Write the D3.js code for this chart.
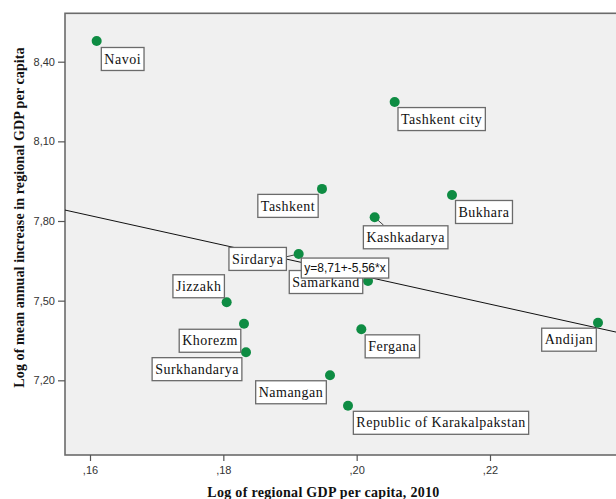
<!DOCTYPE html>
<html>
<head>
<meta charset="utf-8">
<script src="https://cdn.jsdelivr.net/npm/d3@7"></script>
<style>
  html, body { margin: 0; padding: 0; background: #fff; }
  svg { display: block; }
</style>
</head>
<body>
<svg id="chart" width="616" height="499"></svg>
<script>
// Regions of Uzbekistan: log GDP per capita (2010) vs log mean annual increase
const regions = ["Navoi", "Tashkent city", "Tashkent", "Kashkadarya", "Bukhara", "Sirdarya",
  "Samarkand", "Jizzakh", "Khorezm", "Surkhandarya", "Fergana", "Namangan",
  "Republic of Karakalpakstan", "Andijan"];
const logGdp2010 = [0.1610, 0.2057, 0.1948, 0.2027, 0.2143, 0.1913,
  0.2017, 0.1805, 0.1831, 0.1834, 0.2007, 0.1960, 0.1987, 0.2362];
const logMeanIncrease = [8.478, 8.248, 7.921, 7.814, 7.898, 7.676,
  7.574, 7.494, 7.413, 7.306, 7.392, 7.219, 7.104, 7.417];

// Linear fit as printed on the chart
const fitIntercept = 8.71;
const fitSlope = -5.56;

const xTicks = [0.16, 0.18, 0.20, 0.22];
const yTicks = [7.20, 7.50, 7.80, 8.10, 8.40];

// Label box centre offsets from each point (px)
const labelOffsets = [[26, 18], [47, 17], [-34, 17], [31, 20], [32, 17], [-41, 5],
  [-42, 1], [-28, -16], [-34, 17], [-49, 17], [31, 17], [-39, 17], [93, 17], [-29, 17]];

const svg = d3.select("#chart");
const plot = { left: 65, top: 13.3, right: 620, bottom: 455 };

const x = d3.scaleLinear().domain([0.15625, 0.23950]).range([plot.left, plot.right]);
const y = d3.scaleLinear().domain([6.9187, 8.5823]).range([plot.bottom, plot.top]);

const decimalComma = v => v.toFixed(2).replace(".", ",");

// plot area
svg.append("defs").append("clipPath").attr("id", "plotClip")
  .append("rect").attr("x", plot.left).attr("y", plot.top)
  .attr("width", plot.right - plot.left).attr("height", plot.bottom - plot.top);

svg.append("rect")
  .attr("x", plot.left).attr("y", plot.top)
  .attr("width", plot.right - plot.left + 10).attr("height", plot.bottom - plot.top)
  .attr("fill", "#f0f0f0").attr("stroke", "#6b6b6b").attr("stroke-width", 1.6);

// axes
const xAxis = svg.append("g").attr("transform", `translate(0,${plot.bottom})`)
  .call(d3.axisBottom(x).tickValues(xTicks).tickSize(6).tickPadding(5)
    .tickFormat(v => decimalComma(v).replace(/^0/, "")));
const yAxis = svg.append("g").attr("transform", `translate(${plot.left},0)`)
  .call(d3.axisLeft(y).tickValues(yTicks).tickSize(7).tickPadding(3)
    .tickFormat(decimalComma));
[xAxis, yAxis].forEach(g => {
  g.select(".domain").remove();
  g.selectAll(".tick line").attr("stroke", "#555").attr("stroke-width", 1.2);
  g.selectAll(".tick text").attr("fill", "#333")
    .style("font-family", "'Liberation Sans', Arial, sans-serif").style("font-size", "11px");
});

// axis titles
svg.append("text")
  .attr("x", 323.5).attr("y", 497).attr("text-anchor", "middle")
  .style("font-family", "'Liberation Serif', 'Times New Roman', serif")
  .style("font-size", "14px").style("font-weight", "bold").style("letter-spacing", "0.3px")
  .attr("fill", "#111")
  .text("Log of regional GDP per capita, 2010");
svg.append("text")
  .attr("transform", "translate(24,217.5) rotate(-90)").attr("text-anchor", "middle")
  .style("font-family", "'Liberation Serif', 'Times New Roman', serif")
  .style("font-size", "14px").style("font-weight", "bold").style("letter-spacing", "0.1px")
  .attr("fill", "#111")
  .text("Log of mean annual increase in regional GDP per capita");

// fit line
const xd = x.domain();
svg.append("line")
  .attr("clip-path", "url(#plotClip)")
  .attr("x1", x(xd[0])).attr("y1", y(fitIntercept + fitSlope * xd[0]))
  .attr("x2", x(xd[1])).attr("y2", y(fitIntercept + fitSlope * xd[1]))
  .attr("stroke", "#111").attr("stroke-width", 1);

const data = regions.map((name, i) => ({
  name, gx: logGdp2010[i], gy: logMeanIncrease[i],
  cx: x(logGdp2010[i]), cy: y(logMeanIncrease[i]),
  dx: labelOffsets[i][0], dy: labelOffsets[i][1]
}));

// leader lines for displaced labels
const leaders = { "Kashkadarya": [[0, 0], [9, 8]], "Sirdarya": [[-13, 3], [0, 0]] };
Object.entries(leaders).forEach(([name, seg]) => {
  const d = data.find(e => e.name === name);
  svg.append("line")
    .attr("x1", d.cx + seg[0][0]).attr("y1", d.cy + seg[0][1])
    .attr("x2", d.cx + seg[1][0]).attr("y2", d.cy + seg[1][1])
    .attr("stroke", "#444").attr("stroke-width", 1);
});

// points
svg.append("g").selectAll("circle").data(data).join("circle")
  .attr("cx", d => d.cx).attr("cy", d => d.cy).attr("r", 5)
  .attr("fill", "#0e8c43");

// point labels in boxes
const labels = svg.append("g").selectAll("g").data(data).join("g")
  .attr("transform", d => `translate(${d.cx + d.dx},${d.cy + d.dy})`);
labels.append("rect").attr("fill", "#fff").attr("stroke", "#6b6b6b").attr("stroke-width", 1.3);
labels.append("text").attr("text-anchor", "middle").attr("dy", "0.33em")
  .style("font-family", "'Liberation Serif', 'Times New Roman', serif")
  .style("font-size", "14px").style("letter-spacing", "0.5px").attr("fill", "#111")
  .text(d => d.name);
labels.each(function () {
  const g = d3.select(this);
  const w = g.select("text").node().getComputedTextLength() + 6;
  g.select("rect").attr("x", -w / 2).attr("y", -11.5).attr("width", w).attr("height", 23);
});

// fit equation box
const eqX = 0.19825;
const eq = svg.append("g")
  .attr("transform", `translate(${x(eqX)},${y(fitIntercept + fitSlope * eqX) - 4})`);
const eqText = eq.append("text").attr("text-anchor", "middle").attr("dy", "0.36em")
  .style("font-family", "'Liberation Sans', Arial, sans-serif").style("font-size", "12px")
  .attr("fill", "#111")
  .text(`y=${decimalComma(fitIntercept)}+${decimalComma(fitSlope)}*x`);
const ew = eqText.node().getComputedTextLength() + 6;
eq.insert("rect", "text").attr("x", -ew / 2).attr("y", -10).attr("width", ew).attr("height", 20)
  .attr("fill", "#fff").attr("stroke", "#6b6b6b").attr("stroke-width", 1.3);
</script>
</body>
</html>
